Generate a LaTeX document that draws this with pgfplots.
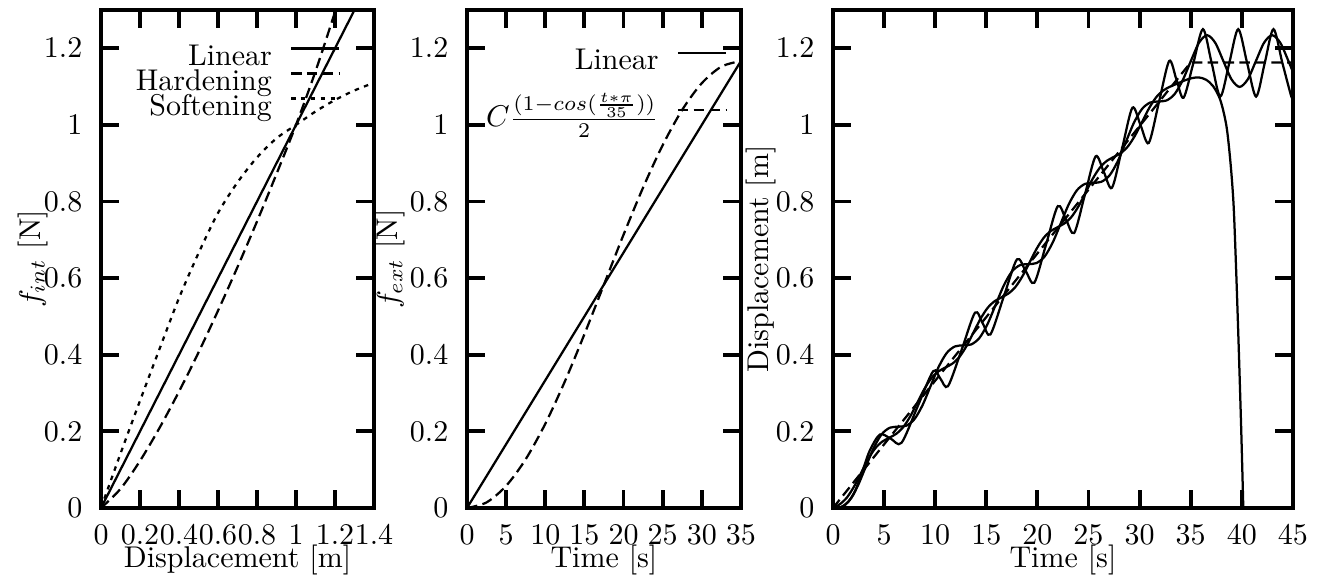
\documentclass[border=0pt]{standalone}
\usepackage{pgfplots}
\pgfplotsset{compat=1.18}

\pgfplotsset{
  panel/.style={
    scale only axis, height=166pt,
    ymin=0, ymax=1.3, ytick={0,0.2,0.4,0.6,0.8,1,1.2},
    axis line style={line width=1.3pt},
    tick style={line width=1.3pt, black},
    major tick length=6pt, tick align=inside,
    xticklabel style={anchor=base, yshift=-12.3pt},
    yticklabel style={anchor=east, xshift=-2.7pt},
    xlabel style={at={(axis description cs:0.5,-0.1187)}, anchor=base},
    ylabel style={anchor=base},
    legend cell align=right, legend plot pos=right,
    legend image code/.code={\draw[#1] (0pt,3.4pt) -- (16pt,3.4pt);},
    legend style={draw=none, fill=none, anchor=north east,
      inner sep=0pt, outer sep=0pt, row sep=0pt, column sep=6pt,
      nodes={inner sep=0pt, text height=6.3pt, text depth=2pt}},
  },
  curve/.style={black, line width=0.75pt},
  dsh/.style={curve, dash pattern=on 3.5pt off 1.8pt},
  dtt/.style={curve, dash pattern=on 1.5pt off 1.8pt},
}

\begin{document}
\begin{tikzpicture}
\useasboundingbox (-33.67pt,-24pt) rectangle (409pt,169.33pt);

% internal force vs displacement
\begin{axis}[panel, at={(0pt,0pt)}, width=91pt,
    xmin=0, xmax=1.4, xtick={0,0.2,0.4,0.6,0.8,1,1.2,1.4},
    xlabel={Displacement [m]}, ylabel={$f_{int}$ [N]},
    ylabel style={at={(axis description cs:-0.223,0.5)}},
    legend style={at={(axis description cs:0.876,0.927)}}]
  \addplot[curve] coordinates {(0,0) (1.4,1.4)};
  \addlegendentry{Linear}
  \addplot[dsh, smooth] coordinates {
    (0,0) (0.1,0.050) (0.2,0.123) (0.3,0.209) (0.4,0.304) (0.5,0.406)
    (0.6,0.515) (0.7,0.629) (0.8,0.748) (0.9,0.872) (1.0,1.0)
    (1.1,1.14) (1.2,1.295) (1.3,1.46)
  };
  \addlegendentry{Hardening}
  \addplot[dtt, smooth] coordinates {
    (0,0) (0.1,0.142) (0.2,0.28) (0.3,0.415) (0.4,0.548) (0.5,0.665)
    (0.6,0.77) (0.7,0.85) (0.8,0.915) (0.9,0.965) (1.0,1.0)
    (1.1,1.035) (1.2,1.065) (1.3,1.09) (1.4,1.11)
  };
  \addlegendentry{Softening}
\end{axis}

% external force vs time
\begin{axis}[panel, at={(122pt,0pt)}, width=91.3pt,
    xmin=0, xmax=35, xtick={0,5,10,15,20,25,30,35},
    xlabel={Time [s]}, ylabel={$f_{ext}$ [N]},
    ylabel style={at={(axis description cs:-0.252,0.5)}},
    legend style={at={(axis description cs:0.949,0.918)}, row sep=10.7pt}]
  \addplot[curve] coordinates {(0,0) (35,1.1667)};
  \addlegendentry{Linear}
  \addplot[dsh, smooth] coordinates {
    (0,0) (2.5,0.0146) (5,0.0578) (7.5,0.1273) (10,0.2197) (12.5,0.3302)
    (15,0.4535) (17.5,0.5833) (20,0.7132) (22.5,0.8364) (25,0.9470)
    (27.5,1.0394) (30,1.1089) (32.5,1.1521) (35,1.1667)
  };
  \addlegendentry{$C\frac{(1-cos(\frac{t*\pi}{35}))}{2}$}
\end{axis}

% displacement vs time
\begin{axis}[panel, at={(244pt,0pt)}, width=153.3pt,
    xmin=0, xmax=45, xtick={0,5,10,15,20,25,30,35,40,45},
    xlabel={Time [s]}, ylabel={Displacement [m]},
    ylabel style={at={(axis description cs:-0.141,0.5)}}]
  \addplot[dsh] coordinates {(0,0) (35,1.163) (45,1.163)};
  % linear
  \addplot[curve, smooth] coordinates {
    (0,0) (0.796,0.0027) (1.592,0.0193) (2.387,0.0557) (3.183,0.1061)
    (3.979,0.1565) (4.775,0.1929) (5.571,0.2096) (6.366,0.2122) (7.162,0.2148)
    (7.958,0.2315) (8.754,0.2679) (9.550,0.3183) (10.345,0.3687) (11.141,0.4051)
    (11.937,0.4218) (12.733,0.4244) (13.529,0.4270) (14.324,0.4437) (15.120,0.4801)
    (15.916,0.5305) (16.712,0.5809) (17.508,0.6173) (18.303,0.6340) (19.099,0.6366)
    (19.895,0.6392) (20.691,0.6559) (21.487,0.6923) (22.282,0.7427) (23.078,0.7932)
    (23.874,0.8296) (24.670,0.8462) (25.466,0.8488) (26.261,0.8515) (27.057,0.8681)
    (27.853,0.9045) (28.649,0.9550) (29.444,1.0054) (30.240,1.0418) (31.036,1.0584)
    (31.832,1.0611) (32.628,1.0637) (33.423,1.0803) (34.219,1.1167) (35.015,1.1667)
    (35.811,1.2144) (36.607,1.2342) (37.402,1.2144) (38.198,1.1667) (38.994,1.1190)
    (39.790,1.0992) (40.586,1.1190) (41.381,1.1667) (42.177,1.2144) (42.973,1.2342)
    (43.769,1.2144) (44.565,1.1667) (45,1.1386)
  };
  % hardening
  \addplot[curve, smooth] coordinates {
    (0,0) (1.0,0.004) (2.0,0.035) (2.8,0.09) (3.6,0.15) (4.6,0.192)
    (5.65,0.181) (6.7,0.170) (8.25,0.263) (9.8,0.357) (10.5,0.338)
    (11.25,0.318) (12.6,0.414) (13.9,0.51) (14.65,0.482) (15.4,0.453)
    (16.7,0.551) (18.0,0.649) (18.85,0.619) (19.7,0.588) (20.85,0.688)
    (22.0,0.788) (22.8,0.753) (23.6,0.718) (24.65,0.818) (25.7,0.918)
    (26.5,0.877) (27.3,0.836) (28.3,0.94) (29.3,1.045) (30.1,0.999)
    (30.9,0.953) (31.9,1.06) (32.9,1.167) (33.6,1.119) (34.3,1.071)
    (35.25,1.16) (36.2,1.25) (37.05,1.162) (37.9,1.074) (38.78,1.162)
    (39.65,1.25) (40.52,1.162) (41.4,1.074) (42.25,1.162) (43.1,1.25)
    (43.97,1.162) (44.85,1.074) (45,1.075)
  };
  % softening
  \addplot[curve, smooth] coordinates {
    (0,0) (0.6875,0.0102) (1.375,0.0278) (2.0625,0.0561) (2.75,0.0917)
    (3.4375,0.1273) (4.125,0.1555) (4.8125,0.1731) (5.5,0.1833) (6.1875,0.1936)
    (6.875,0.2112) (7.5625,0.2394) (8.25,0.275) (8.9375,0.3106) (9.625,0.3388)
    (10.3125,0.3565) (11.0,0.3667) (11.6875,0.3769) (12.375,0.3945) (13.0625,0.4227)
    (13.75,0.4583) (14.4375,0.494) (15.125,0.5222) (15.8125,0.5398) (16.5,0.55)
    (17.1875,0.5602) (17.875,0.5778) (18.5625,0.6061) (19.25,0.6417) (19.9375,0.6773)
    (20.625,0.7055) (21.3125,0.7231) (22.0,0.7333) (22.6875,0.7436) (23.375,0.7612)
    (24.0625,0.7894) (24.75,0.825) (25.4375,0.8606) (26.125,0.8888) (26.8125,0.9065)
    (27.5,0.9167) (28.1875,0.9269) (28.875,0.9445) (29.5625,0.9727) (30.25,1.0083)
    (30.9375,1.044) (31.625,1.0722) (32.3125,1.0898) (33.0,1.100) (33.7,1.108)
    (34.4,1.116) (35.1,1.122) (35.8,1.124) (36.5,1.118) (37.2,1.101)
    (37.9,1.065) (38.5,0.997) (38.9,0.90) (39.2,0.79) (39.45,0.62)
    (39.7,0.42) (39.95,0.2) (40.15,0.0)
  };
\end{axis}
\end{tikzpicture}
\end{document}
